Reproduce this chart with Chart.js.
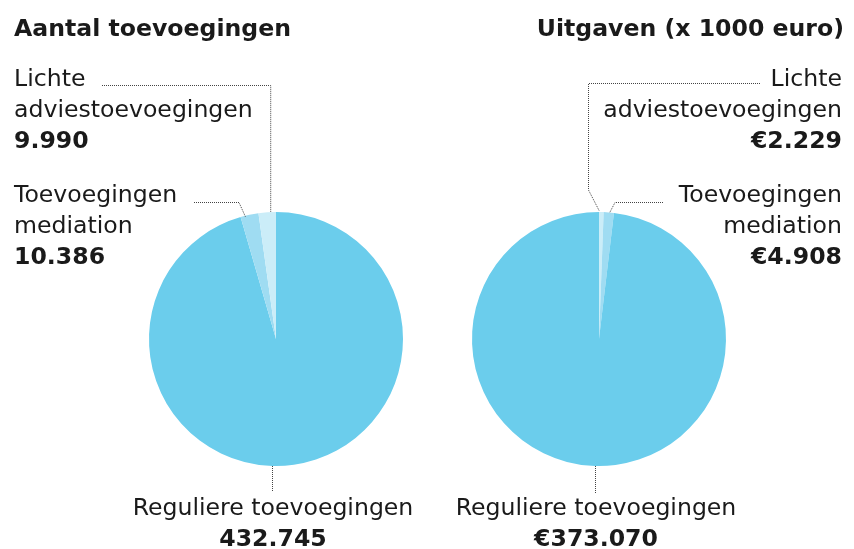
<!DOCTYPE html>
<html>
<head>
<meta charset="utf-8">
<script src="https://cdn.jsdelivr.net/npm/chart.js@4/dist/chart.umd.min.js"></script>
<style>
  html, body { margin: 0; padding: 0; background: #fff; }
  #wrap { position: relative; width: 854px; height: 549px; }
  canvas { position: absolute; left: 0; top: 0; }
</style>
</head>
<body>
<div id="wrap">
  <canvas id="c1" width="854" height="549"></canvas>
  <canvas id="c2" width="854" height="549"></canvas>
</div>
<script>
// ---- data ----
const chartTitles = ['Aantal toevoegingen', 'Uitgaven (x 1000 euro)'];
// left pie, clockwise from 12 o'clock
const aantalCategories = [['Reguliere toevoegingen'], ['Toevoegingen', 'mediation'], ['Lichte', 'adviestoevoegingen']];
const aantalValues = [432745, 10386, 9990];
// right pie, clockwise from 12 o'clock
const uitgavenCategories = [['Lichte', 'adviestoevoegingen'], ['Toevoegingen', 'mediation'], ['Reguliere toevoegingen']];
const uitgavenValues = [2229, 4908, 373070];
const currencyPrefix = ['', '€'];

const COL_MAIN = '#6bcdec';
const COL_MED = '#9fdcf2';
const COL_LICHT = '#cbedf8';
const FONT = '"DejaVu Sans", Verdana, sans-serif';
const FS = 23.6;
const LH = 31;

function fmt(v, prefix) {
  const s = String(Math.round(v));
  let out = '';
  for (let i = 0; i < s.length; i++) {
    if (i > 0 && (s.length - i) % 3 === 0) out += '.';
    out += s[i];
  }
  return prefix + out;
}

function dotted(ctx, pts) {
  ctx.save();
  ctx.strokeStyle = '#444';
  ctx.lineWidth = 1;
  ctx.setLineDash([1, 1]);
  ctx.beginPath();
  ctx.moveTo(pts[0][0], pts[0][1]);
  for (let i = 1; i < pts.length; i++) ctx.lineTo(pts[i][0], pts[i][1]);
  ctx.stroke();
  ctx.restore();
}

function drawLabel(ctx, lines, value, x, yBase, align) {
  ctx.save();
  ctx.fillStyle = '#1a1a1a';
  ctx.textAlign = align;
  ctx.textBaseline = 'alphabetic';
  ctx.font = FS + 'px ' + FONT;
  let y = yBase;
  lines.forEach(l => { ctx.fillText(l, x, y); y += LH; });
  ctx.font = 'bold ' + FS + 'px ' + FONT;
  ctx.fillText(value, x, y);
  ctx.restore();
}

function midPoint(arc) {
  const a = (arc.startAngle + arc.endAngle) / 2;
  return [arc.x + Math.cos(a) * arc.outerRadius, arc.y + Math.sin(a) * arc.outerRadius];
}

const labelPlugin = {
  id: 'labels',
  afterDraw(chart, args, opts) {
    const ctx = chart.ctx;
    const meta = chart.getDatasetMeta(0);
    const arcs = meta.data;
    const vals = chart.data.datasets[0].data;
    const cats = chart.data.labels;
    const pre = opts.prefix;
    ctx.save();
    ctx.font = 'bold ' + FS + 'px ' + FONT;
    ctx.fillStyle = '#1a1a1a';
    ctx.textBaseline = 'alphabetic';
    if (opts.side === 'left') {
      ctx.textAlign = 'left';
      ctx.fillText(opts.title, 14, 36);
      // regulier (0), mediation (1), lichte (2)
      const pL = midPoint(arcs[2]);
      dotted(ctx, [[102, 85.5], [pL[0] + 3.5, 85.5], [pL[0] + 3.5, pL[1]]]);
      drawLabel(ctx, cats[2], fmt(vals[2], pre), 14, 86, 'left');
      const pM = midPoint(arcs[1]);
      dotted(ctx, [[194, 202.5], [239, 202.5], [pM[0] - 4, pM[1] + 2]]);
      drawLabel(ctx, cats[1], fmt(vals[1], pre), 14, 202, 'left');
      const a0 = arcs[0];
      const bx = 272.5;
      dotted(ctx, [[bx, a0.y + a0.outerRadius], [bx, 492]]);
      drawLabel(ctx, cats[0], fmt(vals[0], pre), 273, 515, 'center');
    } else {
      ctx.textAlign = 'right';
      ctx.fillText(opts.title, 844, 36);
      // lichte (0), mediation (1), regulier (2)
      const pL = midPoint(arcs[0]);
      dotted(ctx, [[760, 83.5], [588.5, 83.5], [588.5, 190], [pL[0] - 2, pL[1] - 1]]);
      drawLabel(ctx, cats[0], fmt(vals[0], pre), 842, 86, 'right');
      const pM = midPoint(arcs[1]);
      dotted(ctx, [[663, 202.5], [615, 202.5], [pM[0] + 1, pM[1]]]);
      drawLabel(ctx, cats[1], fmt(vals[1], pre), 842, 202, 'right');
      const a2 = arcs[2];
      const bx = 595.5;
      dotted(ctx, [[bx, a2.y + a2.outerRadius], [bx, 494]]);
      drawLabel(ctx, cats[2], fmt(vals[2], pre), 596, 515, 'center');
    }
    ctx.restore();
  }
};

function makePie(id, cats, vals, colors, padding, side, title, prefix) {
  return new Chart(document.getElementById(id), {
    type: 'pie',
    data: {
      labels: cats,
      datasets: [{ data: vals, backgroundColor: colors, borderWidth: 0, hoverOffset: 0 }]
    },
    options: {
      responsive: false,
      animation: false,
      events: [],
      layout: { padding: padding },
      plugins: {
        legend: { display: false },
        tooltip: { enabled: false },
        labels: { side: side, title: title, prefix: prefix }
      }
    },
    plugins: [labelPlugin]
  });
}

makePie('c1', aantalCategories, aantalValues, [COL_MAIN, COL_MED, COL_LICHT],
  { left: 149, right: 451, top: 212, bottom: 83 }, 'left', chartTitles[0], currencyPrefix[0]);
makePie('c2', uitgavenCategories, uitgavenValues, [COL_LICHT, COL_MED, COL_MAIN],
  { left: 472, right: 128, top: 212, bottom: 83 }, 'right', chartTitles[1], currencyPrefix[1]);
</script>
</body>
</html>
